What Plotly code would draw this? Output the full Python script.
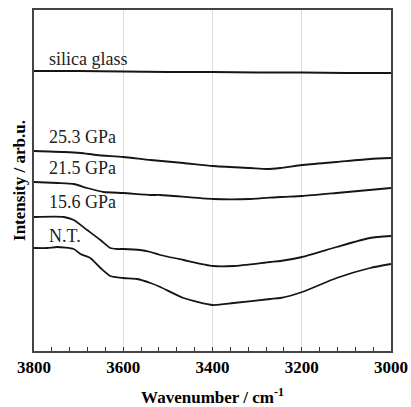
import plotly.graph_objects as go

# Wavenumber grid (cm^-1) and IR absorbance traces, offset for clarity (arb. u.)
wn_silica = [3800, 3700, 3600, 3500, 3400, 3300, 3200, 3100, 3000]
int_silica = [2.80, 2.80, 2.795, 2.79, 2.79, 2.785, 2.785, 2.78, 2.78]

wn_253 = [3800, 3733, 3696, 3659, 3600, 3539, 3465, 3399, 3316, 3278, 3248, 3199, 3122, 3047, 3000]
int_253 = [2.00, 1.99, 1.98, 1.96, 1.94, 1.91, 1.88, 1.85, 1.83, 1.82, 1.83, 1.86, 1.89, 1.92, 1.93]

wn_215 = [3800, 3748, 3711, 3681, 3644, 3600, 3539, 3517, 3399, 3316, 3248, 3199, 3122, 3000]
int_215 = [1.69, 1.68, 1.67, 1.63, 1.59, 1.58, 1.56, 1.56, 1.52, 1.52, 1.54, 1.55, 1.58, 1.63]

wn_156 = [3800, 3733, 3711, 3681, 3651, 3629, 3614, 3600, 3562, 3539, 3517, 3465, 3399,
          3353, 3271, 3248, 3199, 3122, 3047, 3000]
int_156 = [1.34, 1.34, 1.31, 1.21, 1.11, 1.03, 1.02, 1.02, 1.01, 0.99, 0.96, 0.91, 0.85,
           0.85, 0.89, 0.90, 0.94, 1.04, 1.13, 1.15]

wn_nt = [3800, 3770, 3748, 3711, 3696, 3674, 3651, 3629, 3600, 3569, 3539, 3517, 3465,
         3399, 3353, 3271, 3248, 3199, 3122, 3047, 3000]
int_nt = [1.03, 1.03, 1.04, 1.02, 0.97, 0.93, 0.83, 0.75, 0.73, 0.72, 0.68, 0.64, 0.53,
          0.46, 0.48, 0.52, 0.53, 0.59, 0.73, 0.83, 0.87]

labels = ["silica glass", "25.3 GPa", "21.5 GPa", "15.6 GPa", "N.T."]
label_y = [2.92, 2.14, 1.83, 1.49, 1.15]

series = [(wn_silica, int_silica), (wn_253, int_253), (wn_215, int_215),
          (wn_156, int_156), (wn_nt, int_nt)]

FONT = "Times New Roman, Liberation Serif, DejaVu Serif, serif"

fig = go.Figure()
for (x, y), name in zip(series, labels):
    fig.add_trace(go.Scatter(x=x, y=y, mode="lines", name=name,
                             line=dict(color="#151515", width=1.8, shape="spline",
                                       smoothing=0.6),
                             showlegend=False))

for text, yv in zip(labels, label_y):
    fig.add_annotation(x=3772, y=yv, text=text, showarrow=False, xanchor="left",
                       yanchor="middle", font=dict(family=FONT, size=18, color="#222"))

fig.update_layout(
    width=411, height=407,
    margin=dict(l=34, r=20, t=10, b=56, autoexpand=False),
    paper_bgcolor="white", plot_bgcolor="white",
    font=dict(family=FONT, color="black"),
)
fig.update_xaxes(
    range=[3800, 3000], tickvals=[3800, 3600, 3400, 3200, 3000],
    tickfont=dict(family=FONT, size=17, color="black", weight="bold"),
    ticks="inside", ticklen=4, tickcolor="#333",
    minor=dict(dtick=40, tick0=3000, ticks="inside", ticklen=4, tickcolor="#333", showgrid=False),
    showgrid=True, gridcolor="#dcdcdc", gridwidth=1,
    showline=True, linecolor="#444", linewidth=1.5, mirror=True, zeroline=False,
    automargin=False,
    title=dict(text="<b>Wavenumber / cm<sup>-1</sup></b>", font=dict(family=FONT, size=17),
               standoff=18),
)
fig.update_yaxes(
    range=[0, 3.41], showticklabels=False, ticks="", showgrid=False, zeroline=False,
    showline=True, linecolor="#444", linewidth=1.5, mirror=True, automargin=False,
    title=dict(text="<b>Intensity / arb.u.</b>", font=dict(family=FONT, size=17), standoff=2),
)

fig.write_html("out.html")
